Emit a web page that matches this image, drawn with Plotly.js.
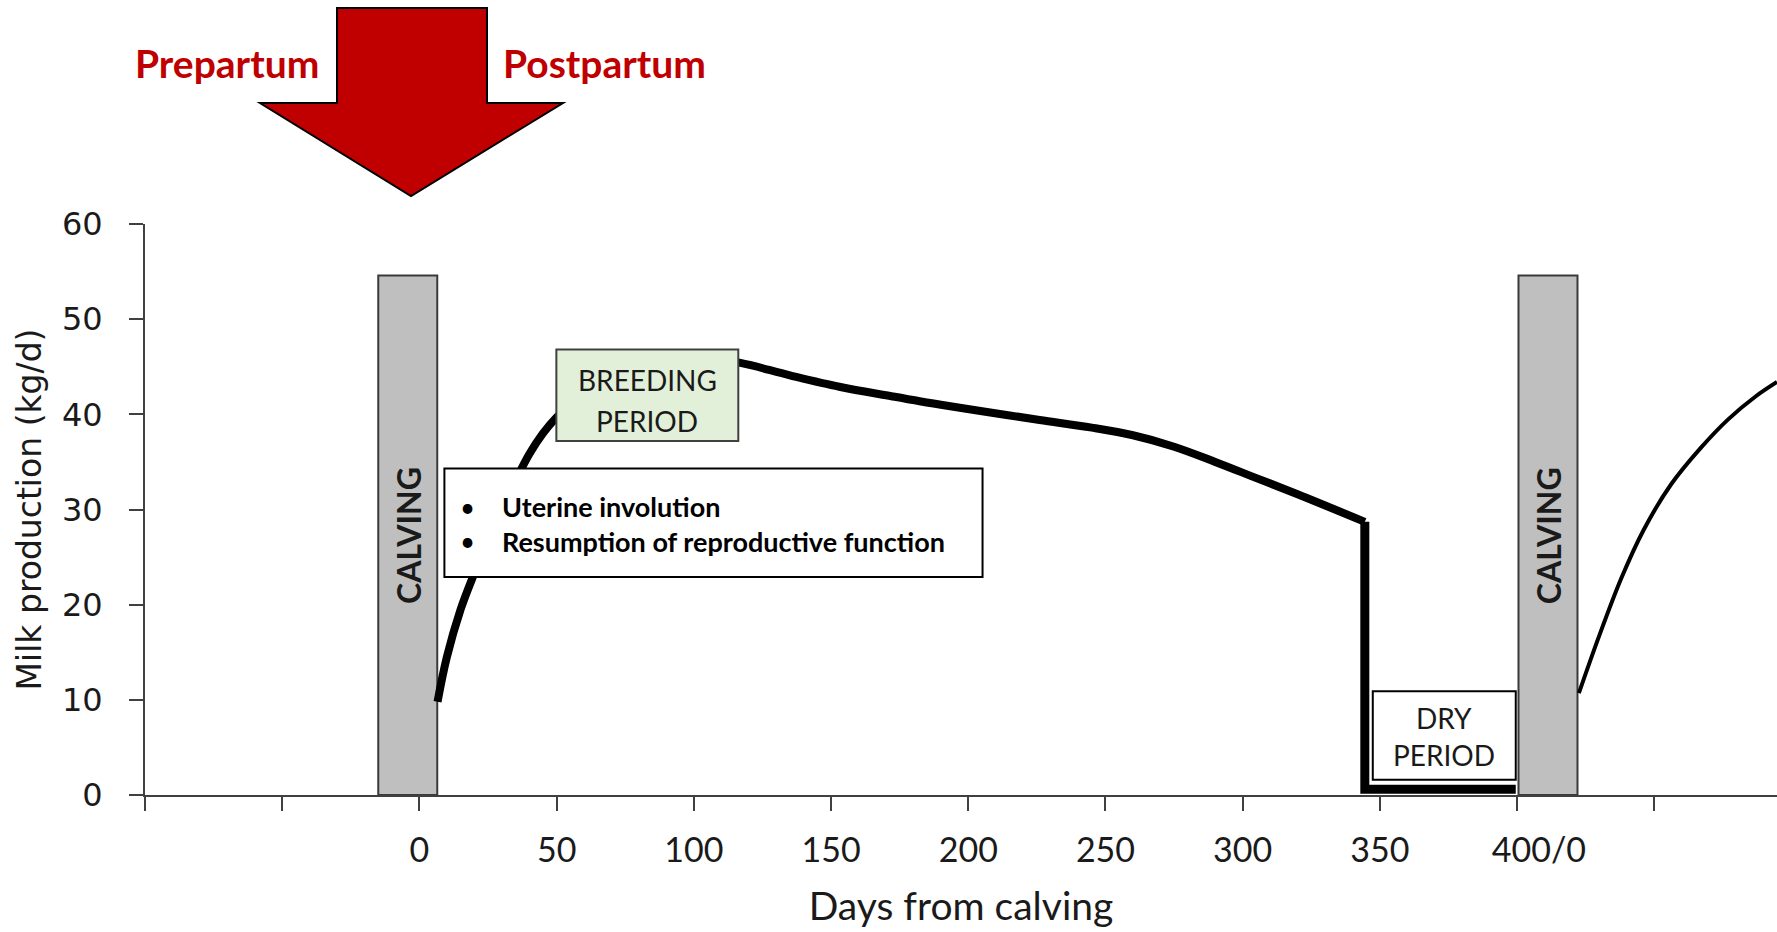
<!DOCTYPE html>
<html>
<head>
<meta charset="utf-8">
<script src="https://cdn.plot.ly/plotly-3.0.1.min.js"></script>
<style>html,body{margin:0;padding:0;background:#fff;}#chart{width:1777px;height:932px;}</style>
</head>
<body>
<div id="chart"></div>
<script>
// ---- data ----
const lactationDays = [6.6, 10, 15, 20, 25, 30, 35, 40, 45, 50, 60, 75, 90, 105, 117, 135, 153, 172, 190, 208, 226, 245, 260, 275, 290, 305, 320, 344.5];
const lactationMilk = [9.8, 14.5, 19.5, 23.3, 26.8, 30.0, 33.0, 35.8, 38.0, 39.7, 42.3, 44.6, 45.7, 45.9, 45.4, 44.1, 42.9, 41.9, 41.0, 40.2, 39.4, 38.6, 37.8, 36.6, 35.0, 33.3, 31.6, 28.7];
const dryDays = [344.5, 344.5, 399.5];
const dryMilk = [28.7, 0.6, 0.6];
const nextDays = [422.5, 430, 438, 446, 456, 467, 477, 487, 494.7];
const nextMilk = [10.7, 16.8, 22.8, 27.8, 32.6, 36.5, 39.5, 41.9, 43.4];
const calvingStart = [-15, 400.5];
const calvingEnd = [6.5, 422];
const calvingHeight = [54.6, 54.6];
const calvingLabel = ["CALVING", "CALVING"];
const xTickVals = [-100, -50, 0, 50, 100, 150, 200, 250, 300, 350, 400, 450];
const xTickText = ["", "", "0", "50", "100", "150", "200", "250", "300", "350", "\u00a0\u00a0\u00a0\u00a0\u00a0400/0", ""];
const yTickVals = [0, 10, 20, 30, 40, 50, 60];

// ---- helpers for decoration placed in pixel space ----
const L = 145, T = 224, W = 1632, H = 571;
const px = x => (x - L) / W;
const py = y => (T + H - y) / H;

const calvingMid = calvingStart.map((s, i) => (s + calvingEnd[i]) / 2);
const calvingWidth = calvingStart.map((s, i) => calvingEnd[i] - s);

const traces = [
  {type: 'bar', x: calvingMid, y: calvingHeight, width: calvingWidth, base: 0,
   marker: {color: '#bfbfbf', line: {color: '#3a3a3a', width: 2}}, hoverinfo: 'skip'},
  {type: 'scatter', mode: 'lines', x: lactationDays, y: lactationMilk,
   line: {color: '#000', width: 8, shape: 'spline', smoothing: 1}, hoverinfo: 'skip'},
  {type: 'scatter', mode: 'lines', x: dryDays, y: dryMilk,
   line: {color: '#000', width: 9}, hoverinfo: 'skip'},
  {type: 'scatter', mode: 'lines', x: nextDays, y: nextMilk,
   line: {color: '#000', width: 4, shape: 'spline', smoothing: 1}, hoverinfo: 'skip'}
];

const arrowPts = [[337, 8], [487, 8], [487, 103], [563, 103], [411, 196], [260, 103], [337, 103]];
const arrowPath = 'M ' + arrowPts.map(p => px(p[0]).toFixed(5) + ',' + py(p[1]).toFixed(5)).join(' L ') + ' Z';

const txt = '#1a1a1a';
const annotations = [];
calvingMid.forEach((m, i) => {
  annotations.push({x: m, y: 27.3, xref: 'x', yref: 'y', text: calvingLabel[i], textangle: -90,
    xanchor: 'center', yanchor: 'middle', showarrow: false,
    font: {family: 'Lato', size: 32, weight: 700, color: txt}});
});
const boxLabel = (x, y, t) => ({x: x, y: y, xref: 'x', yref: 'y', text: t, showarrow: false,
  xanchor: 'center', yanchor: 'middle', font: {family: 'Lato', size: 28, color: txt}});
annotations.push(
  boxLabel(83, 43.6, 'BREEDING'),
  boxLabel(83, 39.35, 'PERIOD'),
  boxLabel(373.4, 8.1, 'DRY'),
  boxLabel(373.4, 4.2, 'PERIOD'),
  {x: 17.4, y: 28.5, xref: 'x', yref: 'y', text: '•<br>•', showarrow: false, align: 'center',
   xanchor: 'center', yanchor: 'middle',
   font: {family: 'Lato', size: 26, weight: 400, color: '#000'}},
  {x: 29.2, y: 28.5, xref: 'x', yref: 'y', xanchor: 'left', yanchor: 'middle',
   text: 'Uterine involution<br>Resumption of reproductive function',
   showarrow: false, align: 'left', font: {family: 'Lato', size: 27, weight: 700, color: '#000'}},
  {x: px(227), y: py(63), xref: 'paper', yref: 'paper', xanchor: 'center', yanchor: 'middle',
   text: 'Prepartum', showarrow: false,
   font: {family: 'Lato', size: 39, weight: 700, color: '#c00000'}},
  {x: px(604), y: py(63), xref: 'paper', yref: 'paper', xanchor: 'center', yanchor: 'middle',
   text: 'Postpartum', showarrow: false,
   font: {family: 'Lato', size: 39, weight: 700, color: '#c00000'}}
);

const layout = {
  width: 1777, height: 932,
  margin: {l: L, r: 0, t: T, b: 932 - T - H, pad: 0},
  paper_bgcolor: '#fff', plot_bgcolor: '#fff',
  showlegend: false, barmode: 'overlay',
  xaxis: {
    range: [-100, 494.7], tickmode: 'array', tickvals: xTickVals, ticktext: xTickText,
    ticks: 'outside', ticklen: 14, tickwidth: 2, tickcolor: '#404040',
    showline: true, linecolor: '#404040', linewidth: 2, showgrid: false, zeroline: false,
    tickfont: {family: 'Lato', size: 34, color: txt}, ticklabelstandoff: 10,
    title: {text: 'Days from calving', font: {family: 'Lato', size: 39, color: txt}, standoff: 25}
  },
  yaxis: {
    range: [0, 60], tickmode: 'array', tickvals: yTickVals,
    ticks: 'outside', ticklen: 14, tickwidth: 2, tickcolor: '#404040',
    showline: true, linecolor: '#404040', linewidth: 2, showgrid: false, zeroline: false,
    tickfont: {family: 'DejaVu Sans', size: 32, color: txt}, ticklabelstandoff: 20,
    title: {text: 'Milk production (kg/d)', font: {family: 'DejaVu Sans', size: 33, color: txt}, standoff: 10}
  },
  shapes: [
    {type: 'rect', xref: 'x', yref: 'y', x0: 49.9, x1: 116.2, y0: 37.2, y1: 46.8, layer: 'above',
     fillcolor: '#e2efd9', line: {color: '#404040', width: 2}},
    {type: 'rect', xref: 'x', yref: 'y', x0: 9.1, x1: 205.2, y0: 22.9, y1: 34.3, layer: 'above',
     fillcolor: '#ffffff', line: {color: '#000', width: 2}},
    {type: 'rect', xref: 'x', yref: 'y', x0: 347.4, x1: 399.5, y0: 1.6, y1: 10.9, layer: 'above',
     fillcolor: '#ffffff', line: {color: '#000', width: 2}},
    {type: 'path', xref: 'paper', yref: 'paper', path: arrowPath, layer: 'above',
     fillcolor: '#c00000', line: {color: '#000', width: 2}}
  ],
  annotations: annotations
};

Plotly.newPlot('chart', traces, layout, {displayModeBar: false, staticPlot: true});
</script>
</body>
</html>
